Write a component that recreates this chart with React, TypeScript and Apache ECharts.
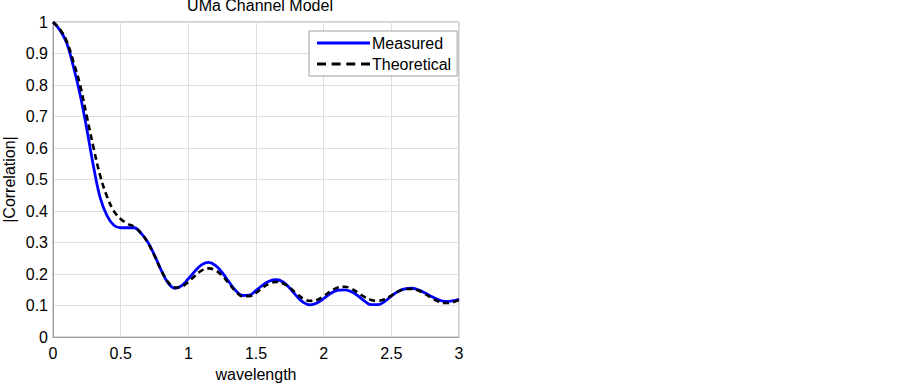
import React, { useEffect, useRef } from "react";
import * as echarts from "echarts";

const xValues = [
  0.0, 0.05, 0.1, 0.15, 0.2, 0.25, 0.3, 0.35, 0.4, 0.45, 0.5, 0.55, 0.6, 0.65, 0.7, 0.75, 0.8, 0.85, 0.9, 0.95,
  1.0, 1.05, 1.1, 1.15, 1.2, 1.25, 1.3, 1.35, 1.4, 1.45, 1.5, 1.55, 1.6, 1.65, 1.7, 1.75, 1.8, 1.85, 1.9, 1.95,
  2.0, 2.05, 2.1, 2.15, 2.2, 2.25, 2.3, 2.35, 2.4, 2.45, 2.5, 2.55, 2.6, 2.65, 2.7, 2.75, 2.8, 2.85, 2.9, 2.95, 3.0,
];

const measured = [
  1.0, 0.975, 0.935, 0.86, 0.77, 0.66, 0.54, 0.44, 0.385, 0.355, 0.347, 0.347, 0.347, 0.33, 0.302, 0.26, 0.212, 0.172, 0.155, 0.163,
  0.185, 0.21, 0.23, 0.237, 0.228, 0.205, 0.175, 0.148, 0.132, 0.133, 0.148, 0.165, 0.178, 0.182, 0.175, 0.155, 0.13, 0.11, 0.102, 0.108,
  0.122, 0.138, 0.148, 0.15, 0.145, 0.132, 0.115, 0.103, 0.103, 0.113, 0.13, 0.145, 0.153, 0.155, 0.15, 0.14, 0.128, 0.118, 0.113, 0.115, 0.12,
];

const theoretical = [
  1.0, 0.978, 0.94, 0.875, 0.8, 0.7, 0.6, 0.51, 0.445, 0.4, 0.375, 0.36, 0.35, 0.33, 0.3, 0.258, 0.212, 0.175, 0.157, 0.16,
  0.175, 0.195, 0.212, 0.218, 0.212, 0.195, 0.17, 0.145, 0.13, 0.13, 0.14, 0.157, 0.17, 0.175, 0.17, 0.157, 0.138, 0.122, 0.115, 0.118,
  0.13, 0.145, 0.157, 0.16, 0.155, 0.142, 0.128, 0.118, 0.115, 0.12, 0.132, 0.145, 0.152, 0.153, 0.148, 0.137, 0.123, 0.113, 0.108, 0.11, 0.118,
];

const seriesNames = ["Measured", "Theoretical"];
const titleText = "UMa Channel Model";
const xName = "wavelength";
const yName = "|Correlation|";

const FONT = "'Liberation Sans', Arial, Helvetica, sans-serif";
const SOLID_ICON = "path://M0,0h53v3h-53z";
const DASH_ICON = "path://M0,0h9v3h-9zM14.6,0h9v3h-9zM29.3,0h9v3h-9zM44,0h9v3h-9z";

export default function App() {
  const ref = useRef<HTMLDivElement>(null);
  useEffect(() => {
    if (!ref.current) return;
    const chart = echarts.init(ref.current, undefined, { renderer: "svg" });
    chart.setOption({
      animation: false,
      backgroundColor: "#ffffff",
      textStyle: { fontFamily: FONT },
      title: {
        text: titleText,
        left: 255,
        textAlign: "center",
        top: -8,
        textStyle: { fontFamily: FONT, fontSize: 16, fontWeight: "normal", color: "#000" },
      },
      grid: {
        left: 51,
        right: 441,
        top: 22,
        bottom: 45,
        show: true,
        borderColor: "#a0a0a0",
        borderWidth: 1,
      },
      legend: {
        orient: "vertical",
        left: 309,
        top: 31,
        width: 149,
        padding: [4, 6, 4, 8],
        itemWidth: 53,
        itemHeight: 14,
        itemGap: 5,
        backgroundColor: "#fff",
        borderColor: "#a0a0a0",
        borderWidth: 1,
        borderRadius: 0,
        textStyle: { fontFamily: FONT, fontSize: 16, color: "#000", padding: [0, 0, 0, -3] },
        data: [
          { name: seriesNames[0], icon: SOLID_ICON, itemStyle: { color: "#0000ff" } },
          { name: seriesNames[1], icon: DASH_ICON, itemStyle: { color: "#000000" } },
        ],
      },
      xAxis: {
        type: "value",
        min: 0,
        max: 3,
        interval: 0.5,
        name: xName,
        nameLocation: "middle",
        nameGap: 27,
        nameTextStyle: { fontFamily: FONT, fontSize: 16, color: "#000" },
        axisLine: { show: true, lineStyle: { color: "#a0a0a0" } },
        axisTick: { show: false },
        axisLabel: { fontFamily: FONT, fontSize: 16, color: "#000", margin: 8 },
        splitLine: { show: true, lineStyle: { color: "#dedede", width: 1 } },
      },
      yAxis: {
        type: "value",
        min: 0,
        max: 1,
        interval: 0.1,
        name: yName,
        nameLocation: "middle",
        nameGap: 36,
        nameRotate: 90,
        nameTextStyle: { fontFamily: FONT, fontSize: 16, color: "#000" },
        axisLine: { show: true, lineStyle: { color: "#a0a0a0" } },
        axisTick: { show: false },
        axisLabel: { fontFamily: FONT, fontSize: 16, color: "#000", margin: 5 },
        splitLine: { show: true, lineStyle: { color: "#dedede", width: 1 } },
      },
      series: [
        {
          name: seriesNames[0],
          type: "line",
          data: xValues.map((x, i) => [x, measured[i]]),
          symbol: "none",
          smooth: 0.4,
          lineStyle: { color: "#0000ff", width: 2.8 },
          itemStyle: { color: "#0000ff" },
          z: 2,
        },
        {
          name: seriesNames[1],
          type: "line",
          data: xValues.map((x, i) => [x, theoretical[i]]),
          symbol: "none",
          smooth: 0.4,
          lineStyle: { color: "#000000", width: 2.6, type: [6, 4] },
          itemStyle: { color: "#000000" },
          z: 3,
        },
      ],
    });
    return () => chart.dispose();
  }, []);
  return (
    <div
      ref={ref}
      style={{ position: "absolute", left: 0, top: 0, width: 900, height: 387 }}
    />
  );
}
